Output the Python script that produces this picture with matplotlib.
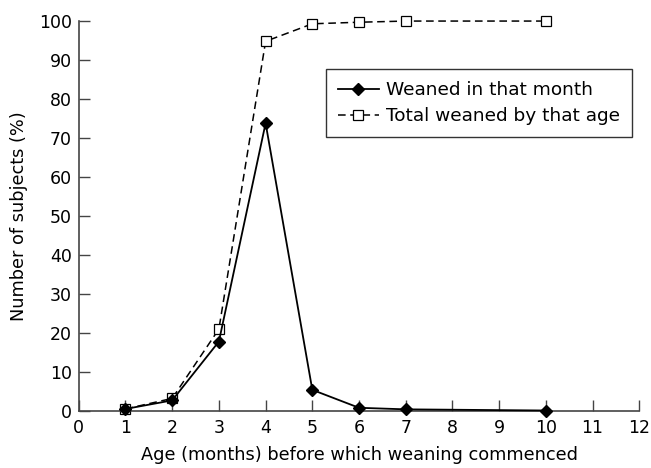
import matplotlib
matplotlib.use("Agg")
import matplotlib.pyplot as plt

months = [1, 2, 3, 4, 5, 6, 7, 10]
weaned_in_month = [0.5, 2.7, 17.8, 73.8, 5.4, 0.8, 0.4, 0.1]
total_weaned = [0.5, 3.2, 21.0, 94.8, 99.3, 99.7, 100.0, 100.0]
xticks = list(range(0, 13))
yticks = list(range(0, 101, 10))

plt.rcParams['font.family'] = ['DejaVu Sans']
fig = plt.figure(figsize=(6.51, 4.68), dpi=100)
ax = fig.add_axes([0.121, 0.122, 0.861, 0.833])

ax.plot(months, weaned_in_month, color='black', lw=1.3, marker='D', ms=6.5,
        mfc='black', mec='black', label='Weaned in that month', clip_on=False, zorder=3)
ax.plot(months, total_weaned, color='black', lw=1.1, ls=(0, (5, 3)), marker='s', ms=6.5,
        mfc='white', mec='black', mew=0.9, label='Total weaned by that age', clip_on=False, zorder=2)

ax.set_xlim(0, 12)
ax.set_ylim(0, 100)
ax.set_xticks(xticks)
ax.set_yticks(yticks)
ax.tick_params(direction='in', length=8, width=1, labelsize=12.5, color='#444444')
ax.tick_params(axis='x', pad=6)
ax.tick_params(axis='y', pad=5)
for s in ['top', 'right']:
    ax.spines[s].set_visible(False)
for s in ['left', 'bottom']:
    ax.spines[s].set_color('#444444')
    ax.spines[s].set_linewidth(1.2)

ax.set_xlabel('Age (months) before which weaning commenced', fontsize=12.8, labelpad=6)
ax.set_ylabel('Number of subjects (%)', fontsize=12.8, labelpad=8)

leg = ax.legend(loc='upper right', bbox_to_anchor=(0.987, 0.877), fontsize=13.3,
                frameon=True, fancybox=False, edgecolor='black', handlelength=2.2,
                handletextpad=0.4, borderpad=0.65, labelspacing=0.45, borderaxespad=0)
leg.get_frame().set_linewidth(1.0)

fig.savefig('out.png', dpi=100)
